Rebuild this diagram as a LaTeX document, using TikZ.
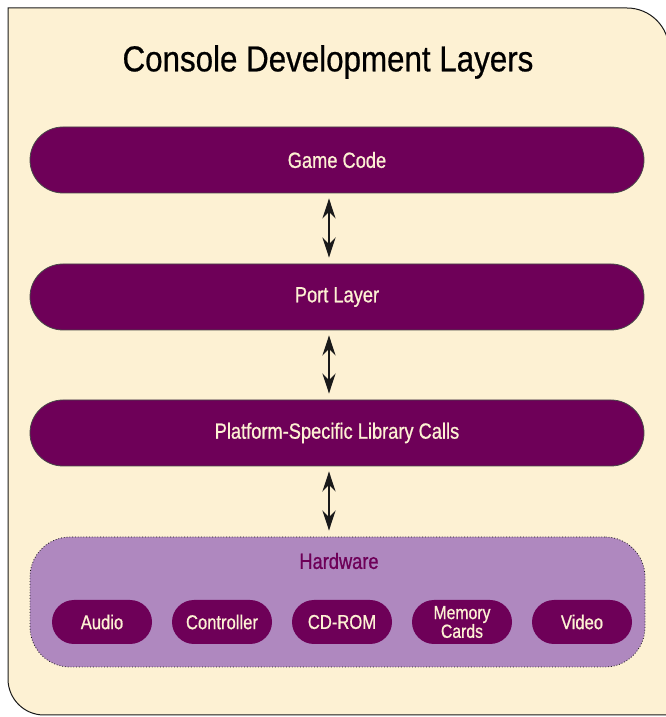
\documentclass[tikz,border=0pt]{standalone}
\usepackage{fontspec}
\newfontfamily\condfont{Liberation Sans}[FakeStretch=0.83,FakeBold=0.8]
\newfontfamily\titlefont{Liberation Sans}[FakeStretch=0.87,FakeBold=0.6]
\usepackage{tikz}
\usetikzlibrary{arrows.meta,positioning,calc}
\definecolor{paper}{HTML}{FDF1D3}
\definecolor{plum}{HTML}{6E0058}
\definecolor{lilac}{HTML}{AF88BF}
\definecolor{ink}{HTML}{1A1A1A}

\begin{document}
\begin{tikzpicture}[x=1pt,y=1pt,>=Stealth,
  layer/.style={draw=ink!80,line width=0.8pt,fill=plum,rounded corners=33pt,minimum width=614pt,minimum height=66pt,text=paper,font=\condfont\fontsize{22}{24}\selectfont},
  part/.style={fill=plum,rounded corners=22pt,minimum width=100pt,minimum height=44pt,inner sep=0pt,text=paper,align=center,font=\condfont\fontsize{20}{22}\selectfont},
  link/.style={<->,line width=2.6pt,ink,shorten <=5pt,shorten >=6pt,>={Stealth[length=20pt,width=13pt]}}]
\useasboundingbox (0,0) rectangle (666,717);
% panel
\draw[ink,line width=1pt,fill=paper] (8,709) -- (627,709) arc[start angle=90,end angle=0,radius=42] -- (669,2) -- (44,2) arc[start angle=270,end angle=180,radius=36] -- cycle;
\node[font=\titlefont\fontsize{36}{40}\selectfont] (title) at (328,655) {Console Development Layers};
% layers
\node[layer] (game) at (337,557) {Game Code};
\node[layer] (port) at (337,420) {Port Layer};
\node[layer] (lib) at (337,284) {Platform-Specific Library Calls};
% hardware
\node[draw=ink,dotted,line width=0.8pt,fill=lilac,rounded corners=40pt,minimum width=615pt,minimum height=130pt] (hw) at (337.5,115) {};
\node[text=plum,font=\condfont\fontsize{22}{24}\selectfont] (hwlabel) at (339,156) {Hardware};
\node[part] (audio) at (102,95) {Audio};
\node[part] (ctrl) at (222,95) {Controller};
\node[part] (cdrom) at (342,95) {CD-ROM};
\node[part,font=\condfont\fontsize{19}{15}\selectfont] (memcard) at (462,95) {Memory\\Cards};
\node[part] (video) at (582,95) {Video};
% arrows
\coordinate (ax) at (329,0);
\draw[link] (game.south -| ax) -- (port.north -| ax);
\draw[link] (port.south -| ax) -- (lib.north -| ax);
\draw[link] (lib.south -| ax) -- (hw.north -| ax);
\end{tikzpicture}
\end{document}
